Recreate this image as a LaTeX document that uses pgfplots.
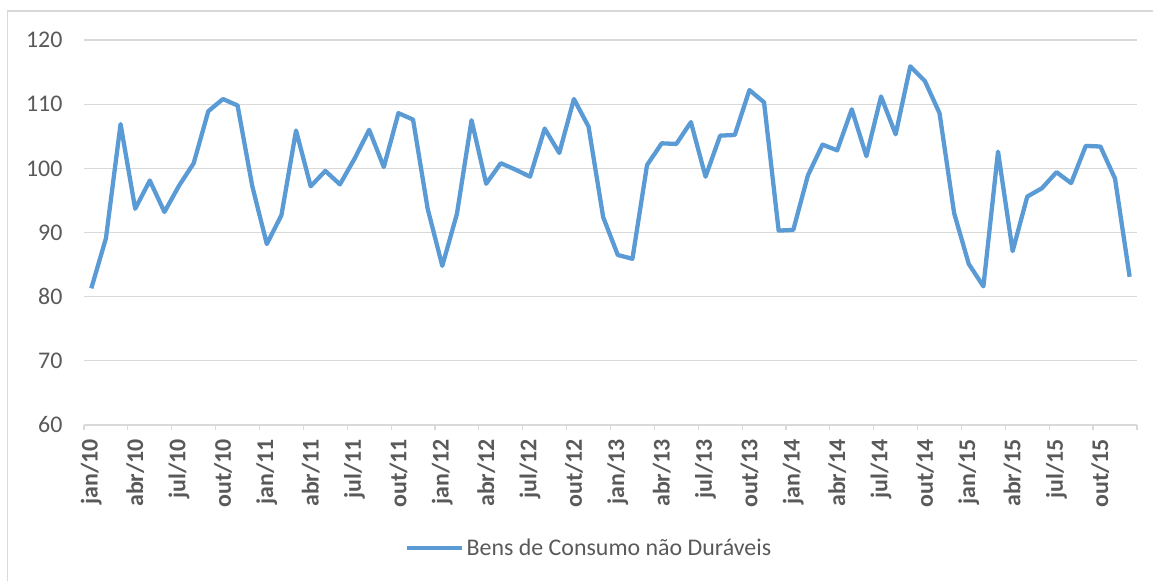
\documentclass[border=0pt]{standalone}
\usepackage{fontspec}
\setmainfont{Carlito}
\usepackage{pgfplots}
\pgfplotsset{compat=1.18}
\definecolor{lineblue}{HTML}{5B9BD5}
\definecolor{gridgray}{HTML}{D9D9D9}
\definecolor{txtgray}{HTML}{595959}
\begin{document}
\begin{tikzpicture}[x=1bp,y=-1bp]
\useasboundingbox (0,0) rectangle (1153,581);
\draw[gridgray, line width=1.2bp] (7.5,581) -- (7.5,11) -- (1153,11);
\begin{axis}[
  scale only axis,
  width=1053bp, height=385bp,
  at={(84bp,-425bp)}, anchor=south west,
  xmin=-0.5, xmax=71.5,
  ymin=60, ymax=120,
  ytick={60,70,...,120},
  ymajorgrids,
  grid style={gridgray, line width=1.2bp},
  axis y line*=left,
  axis x line*=bottom,
  y axis line style={draw=none},
  x axis line style={gridgray, line width=1.2bp},
  ytick style={draw=none},
  xtick={0,3,...,69},
  xticklabels={jan/10,abr/10,jul/10,out/10,jan/11,abr/11,jul/11,out/11,jan/12,abr/12,jul/12,out/12,jan/13,abr/13,jul/13,out/13,jan/14,abr/14,jul/14,out/14,jan/15,abr/15,jul/15,out/15},
  major tick length=0pt,
  minor xtick={-0.5,2.5,...,71.5},
  minor tick length=5bp,
  tick align=outside,
  minor x tick style={gridgray, line width=1.2bp},
  xticklabel style={rotate=90, anchor=east, font=\fontsize{24}{28}\selectfont\bfseries, text=txtgray},
  yticklabel style={font=\fontsize{24}{28}\selectfont, text=txtgray},
  tick label style={/pgf/number format/assume math mode=true},
  x tick label style={inner sep=0pt, outer sep=0pt},
  xticklabel shift=14bp,
  yticklabel shift=18bp,
  legend style={at={(0.305,-0.319)}, anchor=west, draw=none, fill=none, font=\fontsize{24}{28}\selectfont, text=txtgray, inner sep=0pt},
  legend image code/.code={\draw[#1] (0bp,0bp) -- (55bp,0bp);},
  clip=false,
]
\addplot[lineblue, line width=4.3bp, line join=round] coordinates {
(0,81.3) (1,89.1) (2,106.9) (3,93.7) (4,98.1) (5,93.2) (6,97.3) (7,100.8) (8,108.9) (9,110.8) (10,109.8) (11,97.3)
(12,88.2) (13,92.7) (14,105.9) (15,97.2) (16,99.6) (17,97.5) (18,101.5) (19,106.0) (20,100.2) (21,108.6) (22,107.6) (23,93.7)
(24,84.8) (25,92.9) (26,107.5) (27,97.6) (28,100.8) (29,99.8) (30,98.7) (31,106.2) (32,102.4) (33,110.8) (34,106.5) (35,92.4)
(36,86.5) (37,85.9) (38,100.5) (39,103.9) (40,103.8) (41,107.2) (42,98.7) (43,105.1) (44,105.2) (45,112.2) (46,110.3) (47,90.3)
(48,90.4) (49,98.9) (50,103.7) (51,102.8) (52,109.2) (53,101.9) (54,111.2) (55,105.3) (56,115.9) (57,113.6) (58,108.6) (59,93.0)
(60,85.1) (61,81.6) (62,102.6) (63,87.1) (64,95.6) (65,96.9) (66,99.4) (67,97.7) (68,103.5) (69,103.4) (70,98.4) (71,83.1)
};
\addlegendentry{Bens de Consumo não Duráveis}
\end{axis}
\end{tikzpicture}
\end{document}
